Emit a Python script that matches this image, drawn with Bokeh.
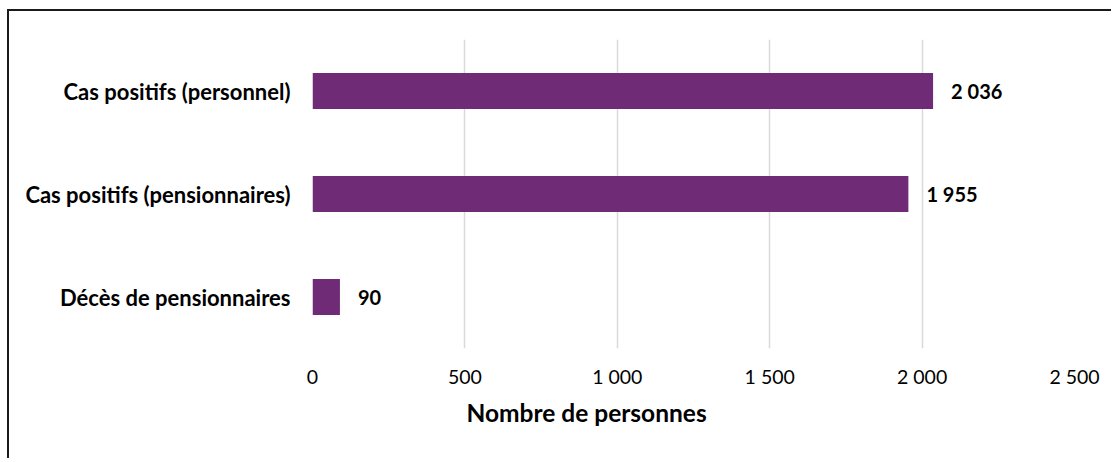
from bokeh.plotting import figure
from bokeh.models import FactorRange, Range1d, FixedTicker, Title, ColumnDataSource
from bokeh.core.properties import value
from bokeh.embed import file_html
from bokeh.resources import INLINE

categories = ["Cas positifs (personnel)", "Cas positifs (pensionnaires)", "Décès de pensionnaires"]
counts = [2036, 1955, 90]
tick_values = [0, 500, 1000, 1500, 2000, 2500]
tick_labels = ["0", "500", "1 000", "1 500", "2 000", "2 500"]
axis_title = "Nombre de personnes"

FONT = "Lato"
BAR = "#702B77"

src = ColumnDataSource(dict(
    cat=categories,
    n=counts,
    lbl=[f"{v:,}".replace(",", " ") for v in counts],
))

p = figure(
    width=1104, height=449,
    y_range=FactorRange(factors=categories[::-1], range_padding=0),
    x_range=Range1d(0, 2500),
    output_backend="svg", toolbar_location=None,
    min_border_left=303, min_border_right=39, min_border_top=28, min_border_bottom=112,
)
p.styles = {"margin-left": "7px", "margin-top": "9px",
            "border-top": "2px solid #1a1a1a", "border-left": "2px solid #1a1a1a"}
p.outline_line_color = None

p.hbar(y="cat", right="n", left=0, height=0.35, source=src, color=BAR, line_color=None)
p.text(x="n", y="cat", text="lbl", source=src, x_offset=18,
       text_font=value(FONT), text_font_style="bold", text_font_size="20px",
       text_baseline="middle", text_align="left", text_color="#000000")

p.ygrid.grid_line_color = None
p.xgrid.grid_line_color = "#d9d9d9"
p.xgrid.grid_line_width = 1.5
p.xgrid.ticker = FixedTicker(ticks=tick_values)

xa = p.xaxis[0]
xa.ticker = FixedTicker(ticks=tick_values)
xa.major_label_overrides = {t: l for t, l in zip(tick_values, tick_labels)}
xa.axis_line_color = None
xa.major_tick_line_color = None
xa.minor_tick_line_color = None
xa.major_tick_out = 0
xa.major_label_standoff = 16
xa.major_label_text_font = FONT
xa.major_label_text_font_size = "19.5px"
xa.major_label_text_color = "#000000"

ya = p.yaxis[0]
ya.axis_line_color = None
ya.major_tick_line_color = None
ya.minor_tick_line_color = None
ya.major_tick_out = 0
ya.major_label_standoff = 22
ya.major_label_text_font = FONT
ya.major_label_text_font_style = "bold"
ya.major_label_text_font_size = "22px"
ya.major_label_text_color = "#000000"

p.add_layout(Title(text=axis_title, align="left", offset=154, standoff=11,
                   text_font=FONT, text_font_style="bold", text_font_size="24.5px",
                   text_color="#000000"), "below")

open("out.html", "w").write(file_html(p, INLINE))
